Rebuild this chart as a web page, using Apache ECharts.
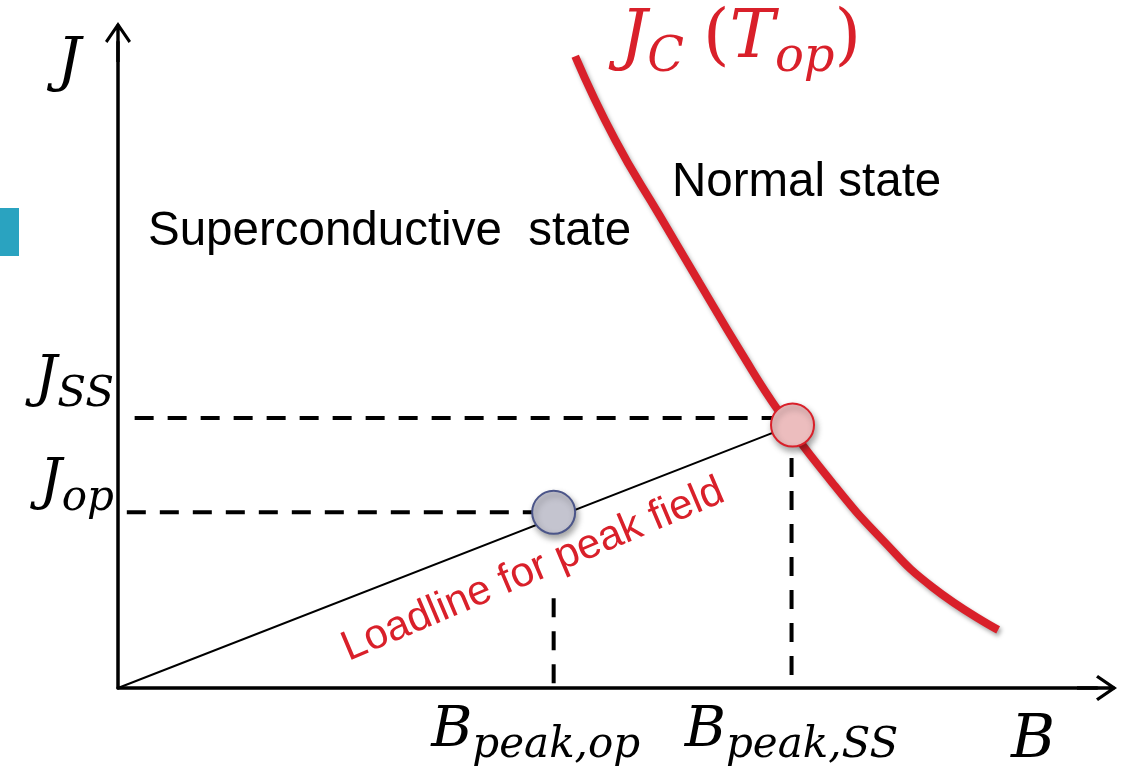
<!DOCTYPE html>
<html>
<head>
<meta charset="utf-8">
<script src="https://cdn.jsdelivr.net/npm/echarts@6/dist/echarts.min.js"></script>
<style>
html,body{margin:0;padding:0;background:#fff;}
#chart{width:1138px;height:769px;}
</style>
</head>
<body>
<div id="chart"></div>
<script>
// Critical-current curve J_C(T_op)
const curveB = [46.7, 50.8, 55.3, 59.4, 63.5, 67.6, 73.0, 78.1, 83.2, 89.9];
const curveJ = [97.8, 84.8, 73.2, 62.7, 52.3, 42.6, 31.7, 22.9, 15.6, 9.0];
// Load line (origin to the critical point)
const loadB = [0, 68.9];
const loadJ = [0, 40.7];
// Operating point and critical (SS) point
const opPoint = [44.5, 27.2];
const ssPoint = [68.9, 40.7];
// Tick levels and their labels
const jLevels = [41.8, 27.2];
const jSubs = ['SS', 'op'];
const bLevels = [44.5, 68.8];
const bSubs = ['peak,op', 'peak,SS'];
// Dashed guide extents
const jDashFrom = [1.7, 0.9];
const jDashTo = [68.9, 44.5];
const bDashTop = [13.9, 35.6];

const RED = '#d9202a';
const SERIF = 'DejaVu Serif';
const SANS = 'Liberation Sans';

const arrowPath = 'path://M13,0 L26,19 L23.6,21 L13,5.6 L2.4,21 L0,19 Z M11.3,2 L14.7,2 L14.7,40 L11.3,40 Z';

const chart = echarts.init(document.getElementById('chart'));

const dashStyle = {color: '#000', width: 4, type: [19, 14]};

const series = [];
// red curve
series.push({
  type: 'line', data: curveB.map((b, i) => [b, curveJ[i]]),
  smooth: 0.5, symbol: 'none', silent: true, z: 3,
  lineStyle: {color: RED, width: 8, cap: 'butt',
    shadowColor: 'rgba(0,0,0,0.35)', shadowBlur: 4, shadowOffsetX: 2, shadowOffsetY: 3}
});
// loadline
series.push({
  type: 'line', data: loadB.map((b, i) => [b, loadJ[i]]),
  symbol: 'none', silent: true, z: 2,
  lineStyle: {color: '#000', width: 2}
});
// horizontal dashes
jLevels.forEach((lv, i) => {
  series.push({type: 'line', symbol: 'none', silent: true, z: 2,
    data: [[jDashFrom[i], lv], [jDashTo[i], lv]], lineStyle: dashStyle});
});
// vertical dashes
bLevels.forEach((lv, i) => {
  series.push({type: 'line', symbol: 'none', silent: true, z: 2,
    data: [[lv, bDashTop[i]], [lv, 0]], lineStyle: dashStyle});
});
// points
series.push({
  type: 'scatter', data: [opPoint], symbolSize: 43, silent: true, z: 5,
  itemStyle: {color: '#c4c4cf', opacity: 1, borderColor: '#4b5589', borderWidth: 2,
    shadowColor: 'rgba(0,0,0,0.35)', shadowBlur: 6, shadowOffsetX: 2, shadowOffsetY: 4}
});
series.push({
  type: 'scatter', data: [ssPoint], symbolSize: 43, silent: true, z: 5,
  itemStyle: {color: '#ecbdbe', opacity: 1, borderColor: RED, borderWidth: 2,
    shadowColor: 'rgba(0,0,0,0.35)', shadowBlur: 6, shadowOffsetX: 2, shadowOffsetY: 4}
});

const mainTok = (pb) => ({fontFamily: SERIF, fontStyle: 'italic', fontWeight: 'normal', fontSize: 56, color: '#000', verticalAlign: 'bottom', padding: [0, 0, pb, 0]});
const subTok = (pb, pr) => ({fontFamily: SERIF, fontStyle: 'italic', fontWeight: 'normal', fontSize: 42, color: '#000', verticalAlign: 'bottom', padding: [0, pr || 0, pb, 0]});

const option = {
  animation: false,
  backgroundColor: '#fff',
  title: {
    text: '{m|J}{s|C}{sp| }{p|(}{m|T}{s|op}{p|)}',
    left: 620, top: 5, padding: 0,
    textStyle: {
      fontWeight: 'normal',
      rich: {
        m: {fontFamily: SERIF, fontStyle: 'italic', fontWeight: 'normal', fontSize: 68, color: RED, verticalAlign: 'bottom', padding: [0, 0, 10, 0]},
        s: {fontFamily: SERIF, fontStyle: 'italic', fontWeight: 'normal', fontSize: 48, color: RED, verticalAlign: 'bottom'},
        p: {fontFamily: SERIF, fontWeight: 'normal', fontSize: 68, color: RED, verticalAlign: 'bottom', padding: [0, 0, 10, 0]},
        sp: {fontFamily: SERIF, fontWeight: 'normal', fontSize: 60, color: RED, verticalAlign: 'bottom'}
      }
    }
  },
  grid: {left: 118, right: 41, top: 42, bottom: 81, containLabel: false},
  xAxis: {
    type: 'value', min: 0, max: 100,
    splitLine: {show: false}, axisTick: {show: false},
    axisLine: {show: true, symbol: ['none', arrowPath], symbolSize: [26, 40],
      lineStyle: {color: '#000', width: 3.5}},
    axisLabel: {
      customValues: bLevels, margin: 15, verticalAlign: 'top', align: 'center',
      formatter: (v) => {
        const i = bLevels.indexOf(v);
        return i === 0 ? '{m|B}{s0|' + bSubs[i] + '}' : '{m|B}{s1|' + bSubs[i] + '}';
      },
      rich: {m: mainTok(8), s0: subTok(0, 36), s1: subTok(0, 0)}
    }
  },
  yAxis: {
    type: 'value', min: 0, max: 100,
    splitLine: {show: false}, axisTick: {show: false},
    axisLine: {show: true, symbol: ['none', arrowPath], symbolSize: [26, 40],
      lineStyle: {color: '#000', width: 3.5}},
    axisLabel: {
      customValues: jLevels, margin: 4, verticalAlign: 'middle', align: 'right',
      formatter: (v) => {
        const i = jLevels.indexOf(v);
        return i === 0 ? '{m0|J}{s0|' + jSubs[i] + '}' : '{m1|J}{s1|' + jSubs[i] + '}';
      },
      rich: {m0: mainTok(75), s0: subTok(67), m1: mainTok(57), s1: subTok(49)}
    }
  },
  graphic: [
    {type: 'rect', shape: {x: 0, y: 208, width: 19, height: 48}, style: {fill: '#2aa3c0'}, silent: true},
    {type: 'text', x: 69, y: 64, silent: true,
      style: {text: 'J', fontFamily: SERIF, fontStyle: 'italic', fontSize: 60, fill: '#000', align: 'center', verticalAlign: 'middle'}},
    {type: 'text', x: 1033, y: 741, silent: true,
      style: {text: 'B', fontFamily: SERIF, fontStyle: 'italic', fontSize: 60, fill: '#000', align: 'center', verticalAlign: 'middle'}},
    {type: 'text', x: 148, y: 232, silent: true,
      style: {text: 'Superconductive  state', fontFamily: SANS, fontSize: 47.5, fill: '#000', align: 'left', verticalAlign: 'middle'}},
    {type: 'text', x: 672, y: 183, silent: true,
      style: {text: 'Normal state', fontFamily: SANS, fontSize: 47.5, fill: '#000', align: 'left', verticalAlign: 'middle'}},
    {type: 'text', x: 533, y: 570, rotation: 23 * Math.PI / 180, silent: true,
      style: {text: 'Loadline for peak field', fontFamily: SANS, fontSize: 42, fill: RED, align: 'center', verticalAlign: 'middle'}}
  ],
  series: series
};
chart.setOption(option);
</script>
</body>
</html>
